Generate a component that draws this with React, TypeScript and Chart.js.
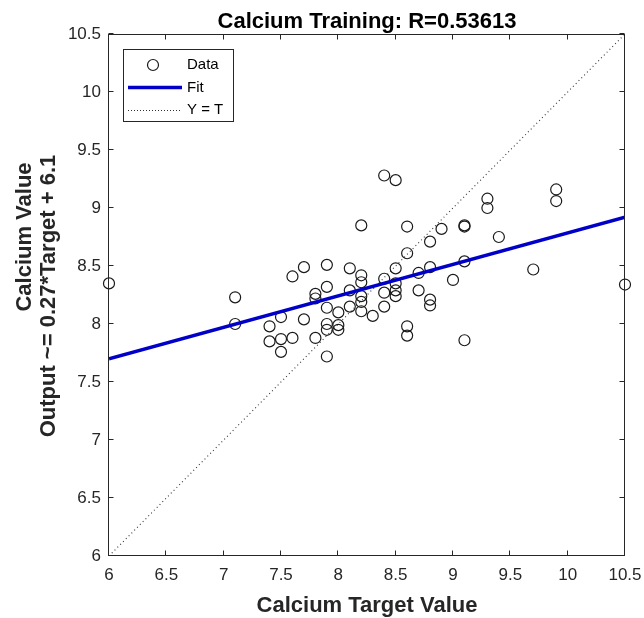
import React, { useEffect, useRef } from "react";
import { Chart, registerables } from "chart.js";

Chart.register(...registerables);

// Data
const targetValues = [
  8.4, 8.5, 8.2, 8.6, 8.9, 8.8, 8.6, 8.5, 8.8, 8.7,
  7.7, 7.6, 7.9, 8.1, 8.2, 8.2, 8.4, 7.1, 7.1, 7.8,
  7.8, 7.9, 8.1, 8.2, 8.2, 7.9, 8.0, 8.1, 8.2, 8.3,
  8.4, 8.4, 8.5, 8.5, 8.5, 8.7, 8.8, 8.8, 7.5, 7.4,
  7.7, 7.4, 7.5, 7.6, 7.5, 7.8, 7.9, 7.9, 8.0, 8.0,
  7.9, 8.6, 8.6, 9.1, 9.1, 9.3, 9.3, 9.9, 9.9, 9.4,
  9.1, 9.0, 9.1, 9.7, 10.5, 6.0,
];
const outputValues = [
  9.28, 9.24, 8.85, 8.84, 8.82, 8.71, 8.61, 8.48, 8.49, 8.44,
  8.49, 8.41, 8.51, 8.48, 8.42, 8.36, 8.39, 8.23, 8.0, 8.26,
  8.22, 8.32, 8.29, 8.24, 8.19, 8.14, 8.1, 8.15, 8.11, 8.07,
  8.15, 8.27, 8.35, 8.29, 8.24, 8.29, 8.21, 8.16, 8.06, 7.98,
  8.04, 7.85, 7.87, 7.88, 7.76, 7.88, 8.0, 7.95, 7.99, 7.95,
  7.72, 7.98, 7.9, 8.85, 8.84, 9.08, 9.0, 9.16, 9.06, 8.75,
  8.54, 8.38, 7.86, 8.47, 8.34, 8.35,
];
const fitX = [6, 10.5];
const fitY = [7.7, 8.92];
const identityX = [6, 10.5];
const identityY = [6, 10.5];
const axisMin = 6;
const axisMax = 10.5;
const tickStep = 0.5;

const titleText = "Calcium Training: R=0.53613";
const xTitleText = "Calcium Target Value";
const yTitleLines = ["Calcium Value", "Output ~= 0.27*Target + 6.1"];
const legendLabels = ["Data", "Fit", "Y = T"];

const FONT = "'Liberation Sans', Arial, Helvetica, sans-serif";
const AXIS_COLOR = "#262626";
const FIT_COLOR = "#0000c8";
const POINT_COLOR = "#1a1a1a";
const ID_COLOR = "#333333";

const decorPlugin = {
  id: "matlabDecor",
  afterDraw(chart: any) {
    const ctx = chart.ctx as CanvasRenderingContext2D;
    const a = chart.chartArea;
    const xs = chart.scales.x;
    const ys = chart.scales.y;
    ctx.save();
    // box
    ctx.strokeStyle = AXIS_COLOR;
    ctx.lineWidth = 1;
    const L = Math.round(a.left) - 0.5;
    const R = Math.round(a.right) - 0.5;
    const T = Math.round(a.top) + 0.5;
    const B = Math.round(a.bottom) - 0.5;
    ctx.strokeRect(L, T, R - L, B - T);
    // inward ticks
    const tl = 5;
    ctx.beginPath();
    xs.ticks.forEach((t: any) => {
      const px = Math.round(xs.getPixelForValue(t.value)) - 0.5;
      ctx.moveTo(px, B);
      ctx.lineTo(px, B - tl);
      ctx.moveTo(px, T);
      ctx.lineTo(px, T + tl);
    });
    ys.ticks.forEach((t: any) => {
      const py = Math.round(ys.getPixelForValue(t.value)) - 0.5;
      ctx.moveTo(L, py);
      ctx.lineTo(L + tl, py);
      ctx.moveTo(R, py);
      ctx.lineTo(R - tl, py);
    });
    ctx.stroke();

    // titles
    const cx = (a.left + a.right) / 2;
    ctx.fillStyle = "#000000";
    ctx.font = `bold 22px ${FONT}`;
    ctx.textAlign = "center";
    ctx.textBaseline = "alphabetic";
    ctx.fillText(titleText, cx, 28);
    ctx.fillStyle = AXIS_COLOR;
    ctx.fillText(xTitleText, cx, 612);

    ctx.save();
    ctx.translate(31, 237);
    ctx.rotate(-Math.PI / 2);
    ctx.fillText(yTitleLines[0], 0, 0);
    ctx.restore();
    ctx.save();
    ctx.translate(55, 296);
    ctx.rotate(-Math.PI / 2);
    ctx.fillText(yTitleLines[1], 0, 0);
    ctx.restore();

    // legend
    const lx = 123.5, ly = 49.5, lw = 110, lh = 72;
    ctx.fillStyle = "#ffffff";
    ctx.fillRect(lx, ly, lw, lh);
    ctx.strokeStyle = AXIS_COLOR;
    ctx.lineWidth = 1;
    ctx.strokeRect(lx, ly, lw, lh);
    const rows = [65, 87.5, 110];
    // Data marker
    ctx.strokeStyle = POINT_COLOR;
    ctx.lineWidth = 1.2;
    ctx.beginPath();
    ctx.arc(153, rows[0], 5.5, 0, Math.PI * 2);
    ctx.stroke();
    // Fit line
    ctx.strokeStyle = FIT_COLOR;
    ctx.lineWidth = 3.5;
    ctx.beginPath();
    ctx.moveTo(128, rows[1]);
    ctx.lineTo(182, rows[1]);
    ctx.stroke();
    // Y = T line
    ctx.strokeStyle = ID_COLOR;
    ctx.lineWidth = 1;
    ctx.setLineDash([1, 2]);
    ctx.beginPath();
    ctx.moveTo(128, rows[2] + 0.5);
    ctx.lineTo(182, rows[2] + 0.5);
    ctx.stroke();
    ctx.setLineDash([]);
    ctx.fillStyle = "#000000";
    ctx.font = `15px ${FONT}`;
    ctx.textAlign = "left";
    ctx.textBaseline = "middle";
    legendLabels.forEach((lab, i) => ctx.fillText(lab, 187, rows[i]));
    ctx.restore();
  },
};

export default function App() {
  const ref = useRef<HTMLCanvasElement | null>(null);
  useEffect(() => {
    if (!ref.current) return;
    const scatterData = targetValues.map((x, i) => ({ x, y: outputValues[i] }));
    const fitData = fitX.map((x, i) => ({ x, y: fitY[i] }));
    const idData = identityX.map((x, i) => ({ x, y: identityY[i] }));
    const chart = new Chart(ref.current, {
      type: "scatter",
      data: {
        datasets: [
          {
            label: legendLabels[0],
            data: scatterData,
            pointStyle: "circle",
            pointRadius: 5.5,
            pointBorderWidth: 1.2,
            pointBorderColor: POINT_COLOR,
            pointBackgroundColor: "rgba(0,0,0,0)",
            borderColor: POINT_COLOR,
            backgroundColor: "rgba(0,0,0,0)",
            showLine: false,
            clip: false,
            order: 2,
          } as any,
          {
            label: legendLabels[1],
            data: fitData,
            showLine: true,
            borderColor: FIT_COLOR,
            borderWidth: 3.5,
            pointRadius: 0,
            order: 1,
          } as any,
          {
            label: legendLabels[2],
            data: idData,
            showLine: true,
            borderColor: ID_COLOR,
            borderWidth: 1.1,
            borderDash: [1, 3],
            pointRadius: 0,
            order: 3,
          } as any,
        ],
      },
      options: {
        responsive: false,
        animation: false,
        devicePixelRatio: 1,
        layout: { padding: { top: 34, right: 19, left: 0, bottom: 0 } },
        plugins: {
          legend: { display: false },
          title: { display: false },
          tooltip: { enabled: false },
        },
        scales: {
          x: {
            type: "linear",
            min: axisMin,
            max: axisMax,
            border: { display: false },
            grid: { display: false, drawTicks: false },
            ticks: {
              stepSize: tickStep,
              padding: 9,
              color: AXIS_COLOR,
              font: { family: FONT, size: 17 },
              maxRotation: 0,
              autoSkip: false,
              callback: (v: any) => String(Number(v)),
            },
            afterFit(scale: any) {
              scale.height = 62;
              scale.paddingLeft = 0;
              scale.paddingRight = 0;
            },
          },
          y: {
            type: "linear",
            min: axisMin,
            max: axisMax,
            border: { display: false },
            grid: { display: false, drawTicks: false },
            ticks: {
              stepSize: tickStep,
              padding: 8,
              color: AXIS_COLOR,
              font: { family: FONT, size: 17 },
              autoSkip: false,
              callback: (v: any) => String(Number(v)),
            },
            afterFit(scale: any) {
              scale.width = 109;
              scale.paddingTop = 0;
              scale.paddingBottom = 0;
            },
          },
        },
      },
      plugins: [decorPlugin],
    });
    return () => chart.destroy();
  }, []);
  return (
    <div style={{ position: "absolute", left: 0, top: 0, width: 644, height: 618, background: "#fff" }}>
      <canvas ref={ref} width={644} height={618} style={{ width: 644, height: 618, display: "block" }} />
    </div>
  );
}
